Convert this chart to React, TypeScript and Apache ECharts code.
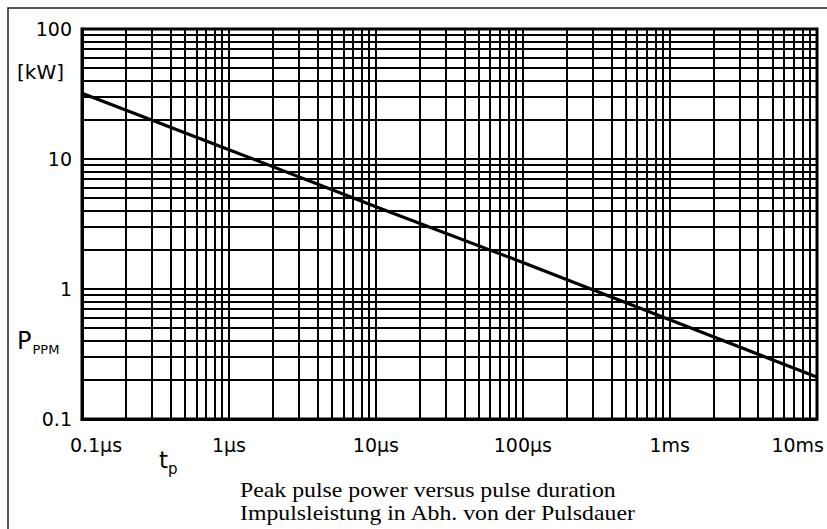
import React, { useEffect, useRef } from "react";
import * as echarts from "echarts";

// Pulse duration in µs, peak pulse power in kW
const pulseDurationUs = [0.1, 1, 10, 100, 1000, 10000];
const peakPowerKW = [32, 11.8, 4.3, 1.6, 0.58, 0.21];

const xTickLabels = ["0.1µs", "1µs", "10µs", "100µs", "1ms", "10ms"];
const yTickLabels = ["0.1", "1", "10", "100"];

const xDecades = [0.1, 1, 10, 100, 1000];
const yDecades = [0.1, 1, 10];
const minorSteps = [2, 3, 4, 5, 6, 7, 8, 9];

const captionLine1 = "Peak pulse power versus pulse duration";
const captionLine2 = "Impulsleistung in Abh. von der Pulsdauer";

const LABEL_FONT = "'DejaVu Sans', sans-serif";
const SERIF = "'Liberation Serif', 'Times New Roman', serif";

export default function App() {
  const ref = useRef<HTMLDivElement>(null);
  useEffect(() => {
    if (!ref.current) return;
    const chart = echarts.init(ref.current, null, { renderer: "svg" });

    const minorX: number[] = [];
    xDecades.forEach((d) => minorSteps.forEach((k) => minorX.push(+(d * k).toPrecision(6))));
    const minorY: number[] = [];
    yDecades.forEach((d) => minorSteps.forEach((k) => minorY.push(+(d * k).toPrecision(6))));

    const gridLineStyle = { color: "#000", width: 2, type: "solid" as const };
    const labelText = { fontFamily: LABEL_FONT, fontSize: 19, color: "#000" };

    chart.setOption({
      animation: false,
      backgroundColor: "#fff",
      grid: { left: 82, top: 29, width: 735, height: 390, show: false },
      xAxis: {
        type: "log",
        logBase: 10,
        min: 0.1,
        max: 10000,
        axisLine: { show: true, onZero: false, lineStyle: { color: "#000", width: 3 } },
        axisTick: { show: false },
        splitLine: { show: true, lineStyle: gridLineStyle },
        axisLabel: {
          margin: 16,
          ...labelText,
          showMinLabel: true,
          showMaxLabel: true,
          formatter: (v: number) => {
            const i = Math.round(Math.log10(v) + 1);
            const t = xTickLabels[i] ?? "";
            if (i === 0) return "{first|" + t + "}";
            if (i === xTickLabels.length - 1) return "{last|" + t + "}";
            return t;
          },
          rich: {
            first: { padding: [0, 0, 0, 28], ...labelText },
            last: { padding: [0, 38, 0, 0], ...labelText },
          },
        },
      },
      yAxis: {
        type: "log",
        logBase: 10,
        min: 0.1,
        max: 100,
        axisLine: { show: true, onZero: false, lineStyle: { color: "#000", width: 3 } },
        axisTick: { show: false },
        splitLine: { show: true, lineStyle: gridLineStyle },
        axisLabel: {
          margin: 10,
          ...labelText,
          formatter: (v: number) => {
            const i = Math.round(Math.log10(v) + 1);
            return yTickLabels[i] ?? "";
          },
        },
      },
      graphic: [
        {
          type: "rect",
          shape: { x: 8, y: 8, width: 900, height: 600 },
          style: { fill: "none", stroke: "#222", lineWidth: 1.5 },
          silent: true,
        },
        {
          type: "rect",
          shape: { x: 82, y: 29, width: 735, height: 390 },
          style: { fill: "none", stroke: "#000", lineWidth: 3 },
          silent: true,
          z: 10,
        },
        {
          type: "text",
          x: 17,
          y: 62,
          style: { text: "[kW]", font: "20px " + LABEL_FONT, fill: "#000", verticalAlign: "top" },
        },
        {
          type: "text",
          x: 17,
          y: 326,
          style: {
            text: "{a|P}{b|PPM}",
            verticalAlign: "top",
            rich: {
              a: { font: "24px " + LABEL_FONT, fill: "#000" },
              b: { font: "13px " + LABEL_FONT, fill: "#000", padding: [17, 0, 0, 1] },
            },
          },
        },
        {
          type: "text",
          x: 159,
          y: 443,
          style: {
            text: "{a|t}{b|p}",
            verticalAlign: "top",
            rich: {
              a: { font: "23px " + LABEL_FONT, fill: "#000" },
              b: { font: "15px " + LABEL_FONT, fill: "#000", padding: [18, 0, 0, 0] },
            },
          },
        },
        {
          type: "text",
          x: 240,
          y: 479,
          scaleX: 1.133,
          style: { text: captionLine1, font: "21px " + SERIF, fill: "#000", verticalAlign: "top" },
        },
        {
          type: "text",
          x: 240,
          y: 502,
          scaleX: 1.133,
          style: { text: captionLine2, font: "21px " + SERIF, fill: "#000", verticalAlign: "top" },
        },
      ],
      series: [
        {
          name: "grid",
          type: "line",
          data: [],
          silent: true,
          markLine: {
            silent: true,
            symbol: ["none", "none"],
            label: { show: false },
            lineStyle: gridLineStyle,
            emphasis: { disabled: true },
            data: [
              ...minorX.map((v) => ({ xAxis: v })),
              ...minorY.map((v) => ({ yAxis: v })),
            ],
          },
        },
        {
          name: "Peak pulse power",
          type: "line",
          z: 8,
          data: pulseDurationUs.map((x, i) => [x, peakPowerKW[i]]),
          showSymbol: false,
          lineStyle: { color: "#000", width: 3.2 },
        },
      ],
    });
    return () => chart.dispose();
  }, []);
  return (
    <div
      ref={ref}
      style={{ position: "absolute", left: 0, top: 0, width: 827, height: 529, background: "#fff" }}
    />
  );
}
